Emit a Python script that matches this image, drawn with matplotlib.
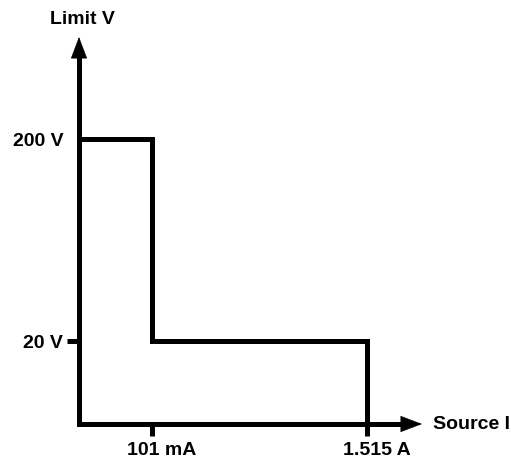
import matplotlib
matplotlib.use("Agg")
import matplotlib.pyplot as plt
import matplotlib.transforms as mtransforms

plt.rcParams['font.family'] = ['Liberation Sans', 'DejaVu Sans']
plt.rcParams['font.weight'] = 'bold'

# schematic operating boundary (positions in schematic units)
current_pos = [1.0, 3.95]          # 101 mA, 1.515 A
current_labels = ["101 mA", "1.515 A"]
voltage_pos = [1.0, 3.43]          # 20 V, 200 V
voltage_labels = ["20 V", "200 V"]

x_axis_name = "Source I"
y_axis_name = "Limit V"

# boundary step: 200 V up to 101 mA, then 20 V up to 1.515 A
step_x = [0, current_pos[0], current_pos[0], current_pos[1], current_pos[1]]
step_y = [voltage_pos[1], voltage_pos[1], voltage_pos[0], voltage_pos[0], 0]

W, H = 511, 465
fig = plt.figure(figsize=(W / 100, H / 100), dpi=100)
ax = fig.add_axes([79 / W, (H - 424) / H, (422 - 79) / W, (424 - 37) / H])
xmax = (422 - 79) / 73
ymax = (424 - 37) / 83
ax.set_xlim(0, xmax)
ax.set_ylim(0, ymax)

lw = 3.6
for s in ax.spines.values():
    s.set_visible(False)

ax.plot(step_x, step_y, color="black", lw=lw, solid_joinstyle="miter",
        solid_capstyle="butt", clip_on=False)

# axes lines with arrow heads
ax.plot([0, 0, xmax - 0.12], [ymax - 0.12, 0, 0], color="black", lw=lw,
        solid_joinstyle="miter", solid_capstyle="butt", clip_on=False)
arrow = dict(arrowstyle="-|>,head_length=1.45,head_width=0.55", lw=0.5,
             color="black", shrinkA=0, shrinkB=0, mutation_scale=10)
ax.annotate("", xy=(xmax, 0), xytext=(xmax - 0.3, 0), arrowprops=arrow,
            annotation_clip=False)
ax.annotate("", xy=(0, ymax), xytext=(0, ymax - 0.3), arrowprops=arrow,
            annotation_clip=False)

ax.set_xticks(current_pos)
ax.set_xticklabels(current_labels)
ax.set_yticks(voltage_pos)
ax.set_yticklabels(voltage_labels)
ax.tick_params(axis="both", length=8.3, width=lw, labelsize=14, color="black")
ax.tick_params(axis="x", pad=5)
ax.tick_params(axis="y", pad=3)
ax.yaxis.get_major_ticks()[1].tick1line.set_visible(False)

offset = mtransforms.ScaledTranslation(10 / 100, 0, fig.dpi_scale_trans)
for lab in ax.get_xticklabels():
    lab.set_transform(lab.get_transform() + offset)

ax.text(xmax + 0.15, 0, x_axis_name, fontsize=14, ha="left", va="center")
ax.text(0.05, ymax + 0.21, y_axis_name, fontsize=14, ha="center",
        va="center")

fig.savefig("out.png", dpi=100)
